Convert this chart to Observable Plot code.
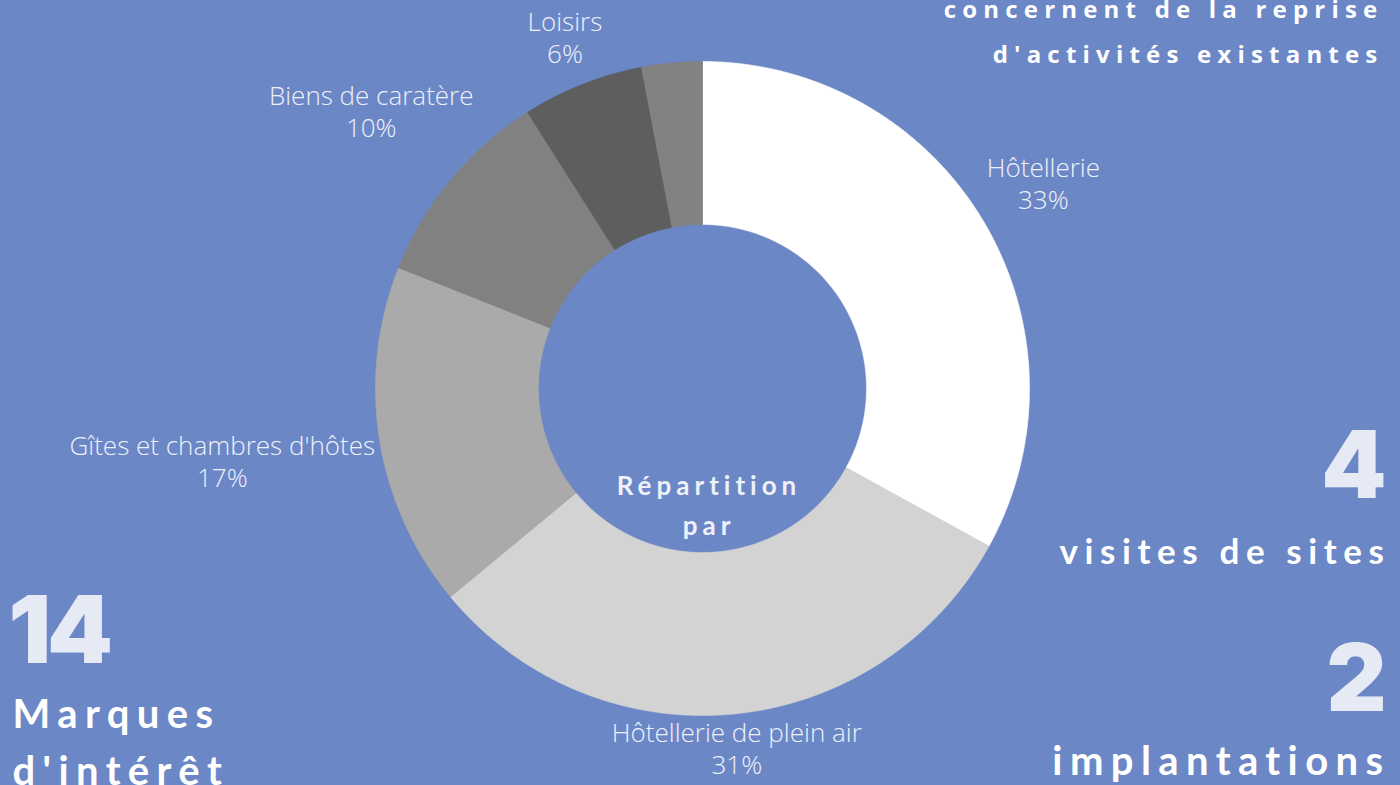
<!DOCTYPE html>
<html><head><meta charset="utf-8">
<script src="https://cdn.jsdelivr.net/npm/d3@7"></script>
<script src="https://cdn.jsdelivr.net/npm/@observablehq/plot@0.6"></script>
<style>html,body{margin:0;padding:0;background:#6b87c6;overflow:hidden}#chart svg{display:block}</style>
</head><body><div id="chart"></div>
<script>
// ---- data ----
const categories = ["Hôtellerie", "Hôtellerie de plein air", "Gîtes et chambres d'hôtes", "Biens de caratère", "Loisirs", "Autres"];
const shares = [33, 31, 17, 10, 6, 3];
const sliceColors = ["#ffffff", "#d3d3d3", "#aaaaaa", "#818181", "#5e5e5e", "#828282"];
const shownLabels = [true, true, true, true, true, false];
const statNumbers = ["14", "4", "2"];
const statLabels = ["Marques\nd'intérêt", "visites de sites", "implantations"];
const topNote = "concernent de la reprise\nd'activités existantes";
const centerTitle = "Répartition\npar";

// ---- layout ----
const W = 1400, H = 785, CX = 702, CY = 388, R = 327, RIN = 164;
const rIn = RIN / R;
const total = d3.sum(shares);
let acc = 0;
const slices = categories.map((name, i) => {
  const a0 = acc / total * 2 * Math.PI; acc += shares[i];
  const a1 = acc / total * 2 * Math.PI;
  return {name, value: shares[i], color: sliceColors[i], shown: shownLabels[i], a0, a1};
});
const polys = slices.map(s => {
  const pts = [];
  const n = Math.max(8, Math.ceil((s.a1 - s.a0) / 0.005));
  for (let k = 0; k <= n; k++) { const a = s.a0 + (s.a1 - s.a0) * k / n; pts.push({x: Math.sin(a), y: Math.cos(a)}); }
  for (let k = n; k >= 0; k--) { const a = s.a0 + (s.a1 - s.a0) * k / n; pts.push({x: rIn * Math.sin(a), y: rIn * Math.cos(a)}); }
  return {s, pts};
});

// label placement (measured text extents)
const LFS = 26, LLH = 32;
const ctx = document.createElement("canvas").getContext("2d");
ctx.font = `300 ${LFS}px "Open Sans"`;
const labels = slices.filter(s => s.shown).map(s => {
  const text = `${s.name}\n${s.value}%`;
  const hw = d3.max(text.split("\n"), t => ctx.measureText(t).width) / 2;
  const m = (s.a0 + s.a1) / 2;
  const hh = Math.cos(m) >= 0 ? 30 : 21;
  const d = (R + 5 + Math.abs(Math.sin(m)) * hw + Math.abs(Math.cos(m)) * hh) / R;
  return {text, x: d * Math.sin(m), y: d * Math.cos(m)};
});

const light = "#eef1f9";
const numColor = "#e6eaf5";
const marks = [];
for (const p of polys) {
  marks.push(Plot.line(p.pts, {x: "x", y: "y", fill: p.s.color, stroke: p.s.color, strokeWidth: 0.6, curve: "linear"}));
}
marks.push(Plot.text(labels, {x: "x", y: "y", text: "text", dx: 0, dy: -4, fill: light, fontSize: LFS, fontWeight: 300,
  fontFamily: "Open Sans", lineHeight: LLH / LFS, textAnchor: "middle", lineAnchor: "middle"}));
marks.push(Plot.text([centerTitle], {frameAnchor: "top", dx: 8.5, dy: 534, lineAnchor: "bottom", lineHeight: 40 / 26,
  fill: light, fontSize: 26, fontWeight: 700, fontFamily: "Lato"}));
// statistics
marks.push(Plot.text([statNumbers[0]], {frameAnchor: "top-left", dx: 8, dy: 662, lineAnchor: "bottom", textAnchor: "start",
  fill: numColor, fontSize: 94, fontWeight: 900, fontFamily: "Inter"}));
marks.push(Plot.text([statNumbers[1]], {frameAnchor: "top-right", dx: -14, dy: 497, lineAnchor: "bottom", textAnchor: "end",
  fill: numColor, fontSize: 93, fontWeight: 900, fontFamily: "Inter"}));
marks.push(Plot.text([statNumbers[2]], {frameAnchor: "top-right", dx: -14, dy: 710, lineAnchor: "bottom", textAnchor: "end",
  fill: numColor, fontSize: 93, fontWeight: 900, fontFamily: "Inter"}));
marks.push(Plot.text([statLabels[0]], {frameAnchor: "top-left", dx: 12, dy: 784, lineAnchor: "bottom", textAnchor: "start",
  lineHeight: 57 / 40, fill: "#ffffff", fontSize: 40, fontWeight: 700, fontFamily: "Lato"}));
marks.push(Plot.text([statLabels[1]], {frameAnchor: "top-right", dx: -10, dy: 563, lineAnchor: "bottom", textAnchor: "end",
  fill: "#ffffff", fontSize: 35, fontWeight: 700, fontFamily: "Lato"}));
marks.push(Plot.text([statLabels[2]], {frameAnchor: "top-right", dx: -10, dy: 774, lineAnchor: "bottom", textAnchor: "end",
  fill: "#ffffff", fontSize: 40, fontWeight: 700, fontFamily: "Lato"}));
marks.push(Plot.text([topNote], {frameAnchor: "top-right", dx: -17, dy: 62, lineAnchor: "bottom", textAnchor: "end",
  lineHeight: 45 / 24, fill: "#ffffff", fontSize: 24, fontWeight: 700, fontFamily: "Open Sans"}));

const chart = Plot.plot({
  width: W, height: H, margin: 0,
  x: {domain: [(0 - CX) / R, (W - CX) / R], axis: null},
  y: {domain: [-(H - CY) / R, CY / R], axis: null},
  style: {background: "#6b87c6", overflow: "visible"},
  marks
});
// letter spacing for the display texts (matched by content)
const flat = s => s.replace(/\n/g, "");
const spacing = new Map([
  [flat(statNumbers[0]), "-4px"],
  [flat(statLabels[0]), "7.4px"], [flat(statLabels[1]), "6.6px"], [flat(statLabels[2]), "7.4px"],
  [flat(centerTitle), "5px"], [flat(topNote), "6.2px"]
]);
chart.querySelectorAll("text").forEach(t => {
  const ls = spacing.get(t.textContent);
  if (ls) t.style.letterSpacing = ls;
});
document.getElementById("chart").append(chart);
</script>
</body></html>
